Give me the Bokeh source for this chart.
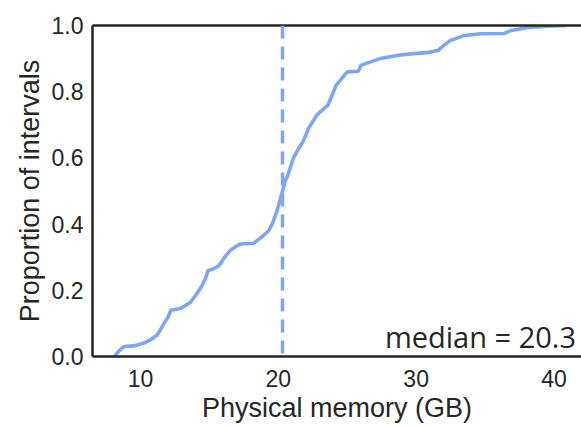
from bokeh.plotting import figure
from bokeh.models import Span, Label, LinearAxis, Range1d, FixedTicker, CustomJSTickFormatter
from bokeh.embed import file_html
from bokeh.resources import INLINE

memory_gb = [8.1, 8.5, 8.8, 9.5, 10.2, 10.7, 11.2, 11.5, 11.7, 12.0, 12.2, 12.9, 13.6, 14.0,
             14.4, 14.7, 14.9, 15.3, 15.7, 16.1, 16.5, 17.0, 17.3, 18.2, 18.9, 19.3, 19.6,
             19.9, 20.1, 20.3, 20.5, 20.7, 21.1, 21.5, 21.8, 22.2, 22.8, 23.2, 23.6, 23.9,
             24.2, 24.5, 25.0, 25.8, 26.0, 26.7, 27.4, 28.7, 29.8, 30.8, 31.6, 32.0, 32.5,
             33.5, 34.7, 36.4, 36.9, 38.1, 39.5, 40.9]
proportion = [0.0, 0.02, 0.03, 0.032, 0.04, 0.05, 0.065, 0.085, 0.10, 0.12, 0.14, 0.145, 0.163,
              0.185, 0.21, 0.235, 0.26, 0.265, 0.275, 0.30, 0.32, 0.335, 0.34, 0.342, 0.365,
              0.38, 0.405, 0.44, 0.47, 0.50, 0.53, 0.55, 0.60, 0.63, 0.65, 0.69, 0.73, 0.745,
              0.76, 0.79, 0.82, 0.835, 0.86, 0.862, 0.88, 0.89, 0.90, 0.91, 0.915, 0.918,
              0.925, 0.94, 0.955, 0.97, 0.975, 0.976, 0.985, 0.994, 0.998, 1.0]
median_value = 20.3
median_text = "median = 20.3"
x_ticks = [10, 20, 30, 40]
y_ticks = [0.0, 0.2, 0.4, 0.6, 0.8, 1.0]

COLOR = "#7ea6f6"
DARK = "#262626"
FONT = "Liberation Sans"

p = figure(width=581, height=427, output_backend="svg", toolbar_location=None,
           x_range=Range1d(6.51, 42.0), y_range=Range1d(0, 1),
           min_border_left=92, min_border_right=0, min_border_top=25, min_border_bottom=71)
p.outline_line_color = None
p.grid.visible = False
p.background_fill_color = "white"

p.line(memory_gb, proportion, line_color=COLOR, line_width=3.6)
p.add_layout(Span(location=median_value, dimension="height", line_color=COLOR,
                  line_width=3.5, line_dash="13 8"))
p.add_layout(Label(x=41.6, y=0.003, text=median_text, text_align="right",
                   text_baseline="bottom", text_font="Open Sans",
                   text_font_size="29px", text_color=DARK))

for ax in (p.xaxis[0], p.yaxis[0]):
    ax.axis_line_color = DARK
    ax.axis_line_width = 2.5
    ax.major_tick_line_color = None
    ax.minor_tick_line_color = None
    ax.major_tick_out = 0
    ax.major_label_text_font = FONT
    ax.major_label_text_font_size = "23px"
    ax.major_label_text_color = DARK
    ax.axis_label_text_font = FONT
    ax.axis_label_text_font_size = "27px"
    ax.axis_label_text_font_style = "normal"
    ax.axis_label_text_color = DARK

p.xaxis.ticker = FixedTicker(ticks=x_ticks)
p.yaxis.ticker = FixedTicker(ticks=y_ticks)
p.yaxis.formatter = CustomJSTickFormatter(code="return tick.toFixed(1);")
p.xaxis.axis_label = "Physical memory (GB)"
p.yaxis.axis_label = "Proportion of intervals"
p.xaxis.major_label_standoff = 13
p.yaxis.major_label_standoff = 9
p.xaxis.axis_label_standoff = 3
p.yaxis.axis_label_standoff = 4

top = LinearAxis(axis_line_color=DARK, axis_line_width=2.5, major_tick_line_color=None,
                 minor_tick_line_color=None, major_label_text_font_size="0px",
                 major_label_standoff=0, major_tick_out=0, ticker=FixedTicker(ticks=[]))
p.add_layout(top, "above")

open("out.html", "w").write(file_html(p, INLINE))
